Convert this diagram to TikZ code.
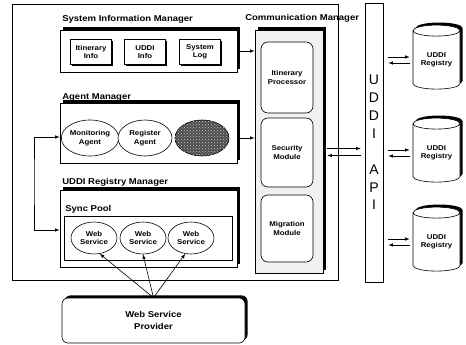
\documentclass[tikz,border=0pt]{standalone}
\usepackage{fontspec}
\setmainfont{Liberation Sans}[FakeStretch=1.12]
\newfontfamily\apifont{Liberation Sans}
\usetikzlibrary{arrows,%
                shapes,shadows,patterns,positioning}

\begin{document}
\begin{tikzpicture}[x=1pt,y=-1pt,line width=0.6pt,>=latex,
  every node/.style={align=center,font=\fontsize{7}{8.5}\selectfont\bfseries},
  title/.style={anchor=west,inner sep=0pt,font=\fontsize{8.5}{10}\selectfont\bfseries},
  bigshadow/.style={drop shadow={shadow xshift=2.6pt,shadow yshift=2.6pt,fill=black,opacity=1}},
  mgrbox/.style={draw,fill=white,bigshadow},
  infobox/.style={draw,fill=white,minimum width=41pt,minimum height=25pt,inner sep=0pt,
    drop shadow={shadow xshift=1.2pt,shadow yshift=-1.2pt,fill=black,opacity=1}},
  modbox/.style={draw,fill=white,rounded corners=7pt,minimum width=52pt,inner sep=0pt},
  agentell/.style={draw,fill=white,ellipse,minimum width=54pt,minimum height=36pt,inner sep=0pt},
  wsell/.style={draw,fill=white,ellipse,minimum width=46pt,minimum height=32pt,inner sep=0pt},
  registry/.style={draw,fill=white,cylinder,shape border rotate=90,aspect=0.35,
    minimum width=47pt,minimum height=64pt,inner sep=0pt,bigshadow}]
\useasboundingbox (0,0) rectangle (466,345);

\node[draw,minimum width=326pt,minimum height=276pt] (outer) at (175,142) {};

\node[mgrbox,minimum width=177pt,minimum height=42pt] (sim) at (148.5,51) {};
\node[mgrbox,minimum width=177pt,minimum height=60pt] (agent) at (148.5,133) {};
\node[mgrbox,minimum width=177pt,minimum height=77pt] (uddimgr) at (148.5,228.5) {};
\node[draw,fill=white,minimum width=168pt,minimum height=44pt] (sync) at (148,238) {};

\node[title] (simlabel) at (62,19) {System Information Manager};
\node[title] (agentlabel) at (62,97) {Agent Manager};
\node[title] (uddilabel) at (62,182) {UDDI Registry Manager};
\node[title] (synclabel) at (65,209) {Sync Pool};
\node[title] (commlabel) at (245,18) {Communication Manager};

\node[infobox] (itininfo) at (91,52) {Itinerary\\Info};
\node[infobox] (uddiinfo) at (145,52) {UDDI\\Info};
\node[infobox] (syslog) at (200,52) {System\\Log};

\node[agentell] (monitor) at (90,138) {Monitoring\\Agent};
\node[agentell] (register) at (145,138) {Register\\Agent};
\node[agentell,fill=black!70,
  postaction={pattern=crosshatch dots,pattern color=white!80!black}] (mobile) at (202,138) {};

\node[wsell] (wsa) at (94,238) {Web\\Service};
\node[wsell] (wsb) at (143,238) {Web\\Service};
\node[wsell] (wsc) at (191,238) {Web\\Service};

\node[draw,fill=gray!12,minimum width=68pt,minimum height=243pt,bigshadow] (comm) at (289,151.5) {};
\node[modbox,minimum height=71pt] (itinproc) at (287,77.5) {Itinerary\\Processor};
\node[modbox,minimum height=69pt] (secmod) at (287,152.5) {Security\\Module};
\node[modbox,minimum height=67pt] (migmod) at (287,228.5) {Migration\\Module};

\node[draw,fill=white,minimum width=18pt,minimum height=279pt,inner sep=0pt,
  font=\apifont\fontsize{14}{17.9}\selectfont] (api) at (374,142.5) {U\\D\\D\\I\\ \\A\\P\\I};

\node[registry] (rega) at (436.5,60) {UDDI\\Registry};
\node[registry] (regb) at (436.5,153) {UDDI\\Registry};
\node[registry] (regc) at (436.5,242) {UDDI\\Registry};

\node[draw,fill=white,rounded corners=6pt,minimum width=183pt,minimum height=45pt,
  font=\fontsize{8.5}{12.5}\selectfont\bfseries,bigshadow] (wsp) at (153.5,320.5) {Web Service\\Provider};

\coordinate (lbend) at (34,180);

\draw[->] (sim.east) -- (sim.east -| comm.west);
\draw[->] ([yshift=-5pt]agent.east) -- ([yshift=-5pt]agent.east -| comm.west);
\draw[<->] ([yshift=-4pt]agent.west) -| (lbend) |- ([yshift=-1.5pt]uddimgr.west);

\draw[->] ([xshift=4pt,yshift=4pt]comm.east |- secmod.east) -- ([xshift=-4pt,yshift=4pt]api.west |- secmod.east);
\draw[<-] ([xshift=4pt,yshift=-3pt]comm.east |- secmod.east) -- ([xshift=-4pt,yshift=-3pt]api.west |- secmod.east);

\draw[->] ([xshift=5pt,yshift=3pt]api.east |- rega.west) -- ([xshift=-3pt,yshift=3pt]rega.west);
\draw[<-] ([xshift=5pt,yshift=-3pt]api.east |- rega.west) -- ([xshift=-3pt,yshift=-3pt]rega.west);
\draw[->] ([xshift=5pt,yshift=3pt]api.east |- regb.west) -- ([xshift=-3pt,yshift=3pt]regb.west);
\draw[<-] ([xshift=5pt,yshift=-3pt]api.east |- regb.west) -- ([xshift=-3pt,yshift=-3pt]regb.west);
\draw[->] ([xshift=5pt,yshift=3pt]api.east |- regc.west) -- ([xshift=-3pt,yshift=3pt]regc.west);
\draw[<-] ([xshift=5pt,yshift=-3pt]api.east |- regc.west) -- ([xshift=-3pt,yshift=-3pt]regc.west);

\draw[->] (wsp.north) -- (wsa.-70);
\draw[->] (wsp.north) -- (wsb.south);
\draw[->] (wsp.north) -- (wsc.-110);

\end{tikzpicture}
\end{document}
